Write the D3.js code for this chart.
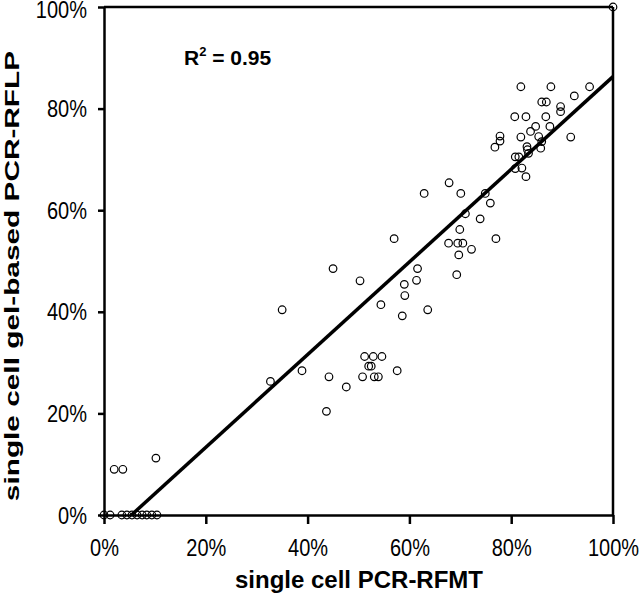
<!DOCTYPE html>
<html><head><meta charset="utf-8">
<script src="https://cdn.jsdelivr.net/npm/d3@7"></script>
<style>html,body{margin:0;padding:0;background:#fff;}svg{display:block;}</style>
</head><body>
<svg id="c" width="640" height="596"></svg>
<script>
const xVals = [100,
  0,1.2,3.5,4.5,5.5,6.5,7.5,8.4,9.4,10.4,
  2,3.7,10.2,
  32.7,38.9,35.0,43.7,44.2,47.6,45.0,50.3,
  50.8,53.1,53.9,52.0,52.5,51.2,52.9,54.6,57.6,
  57.0,61.6,61.4,59.0,59.1,54.4,63.6,58.6,
  62.9,67.8,70.1,74.9,75.9,71.0,73.9,69.9,77.0,
  67.7,69.5,70.5,72.2,69.7,69.3,
  81.9,87.8,95.4,92.4,86.0,86.9,89.7,89.7,80.7,82.9,86.8,84.8,87.6,83.8,85.4,81.9,91.7,77.8,77.8,76.8,86.0,85.8,83.1,83.2,83.4,80.8,81.5,80.8,82.1,82.9];
const yVals = [100,
  0,0,0,0,0,0,0,0,0,0,
  9,9,11.2,
  26.3,28.4,40.4,20.4,27.2,25.2,48.5,46.1,
  27.2,27.2,27.2,29.3,29.3,31.2,31.2,31.2,28.4,
  54.4,48.5,46.2,45.4,43.2,41.4,40.4,39.2,
  63.3,65.4,63.3,63.3,61.4,59.3,58.3,56.2,54.4,
  53.5,53.5,53.5,52.3,51.2,47.3,
  84.3,84.3,84.3,82.5,81.3,81.3,80.4,79.4,78.4,78.4,78.4,76.5,76.5,75.5,74.5,74.4,74.4,74.6,73.6,72.4,73.5,72.2,72.5,71.9,71.2,70.5,70.5,68.2,68.3,66.6];
const tickVals = [0,20,40,60,80,100];
const tickLabels = ["0%","20%","40%","60%","80%","100%"];
const fitX = [5.4,100];
const fitY = [0,86.3];
const rText = "R", rSup = "2", rVal = " = 0.95";
const xTitle = "single cell PCR-RFMT";
const yTitle = "single cell gel-based PCR-RFLP";

const svg = d3.select("#c");
const x = d3.scaleLinear().domain([0,100]).range([104,613]);
const y = d3.scaleLinear().domain([0,100]).range([515,7]);
const font = "'Liberation Sans', Arial, sans-serif";

// box top & right
svg.append("line").attr("x1",x(0)).attr("x2",x(100)).attr("y1",y(100)).attr("y2",y(100)).attr("stroke","#000").attr("stroke-width",2.5);
svg.append("line").attr("x1",x(100)).attr("x2",x(100)).attr("y1",y(100)).attr("y2",y(0)).attr("stroke","#000").attr("stroke-width",2.5);

const xAxis = svg.append("g").attr("transform",`translate(0,${y(0)})`)
  .call(d3.axisBottom(x).tickValues(tickVals).tickFormat((d,i)=>tickLabels[i]).tickSize(9).tickSizeOuter(0).tickPadding(9));
const yAxis = svg.append("g").attr("transform",`translate(${x(0)},0)`)
  .call(d3.axisLeft(y).tickValues(tickVals).tickFormat((d,i)=>tickLabels[i]).tickSize(6).tickSizeOuter(0).tickPadding(11));
[xAxis,yAxis].forEach(g=>{
  g.select(".domain").attr("stroke","#000").attr("stroke-width",2.5);
  g.selectAll(".tick line").attr("stroke","#000").attr("stroke-width",2.5);
  g.selectAll(".tick text").attr("font-family",font).attr("font-size",20).attr("fill","#000");
});
// taller glyphs like the reference
xAxis.selectAll(".tick text").attr("y",0).attr("dy",null).attr("transform","translate(0,41) scale(1,1.15)");
yAxis.selectAll(".tick text").attr("dy",null)
  .attr("transform",d=>`translate(0,${d===100?10:8}) scale(1,1.15)`);

// regression line
svg.append("line").attr("x1",x(fitX[0])).attr("y1",y(fitY[0])).attr("x2",x(fitX[1])).attr("y2",y(fitY[1]))
  .attr("stroke","#000").attr("stroke-width",3.5);

// points
svg.append("g").selectAll("circle").data(xVals.map((v,i)=>[v,yVals[i]])).join("circle")
  .attr("cx",d=>x(d[0])).attr("cy",d=>y(d[1])).attr("r",3.8)
  .attr("fill","none").attr("stroke","#000").attr("stroke-width",1.2);

// R^2
const t = svg.append("text").attr("x",184).attr("y",65).attr("font-family",font).attr("font-weight","bold").attr("font-size",21);
t.append("tspan").text(rText);
t.append("tspan").text(rSup).attr("font-size",13).attr("dy",-9);
t.append("tspan").text(rVal).attr("dy",9);

svg.append("text").attr("x",359).attr("y",588).attr("text-anchor","middle").attr("font-family",font)
  .attr("font-weight","bold").attr("font-size",24).text(xTitle);
svg.append("text").attr("transform","translate(19,276) rotate(-90) scale(1.42,1)").attr("text-anchor","middle").attr("font-family",font)
  .attr("font-weight","bold").attr("font-size",21).text(yTitle);
</script>
</body></html>
